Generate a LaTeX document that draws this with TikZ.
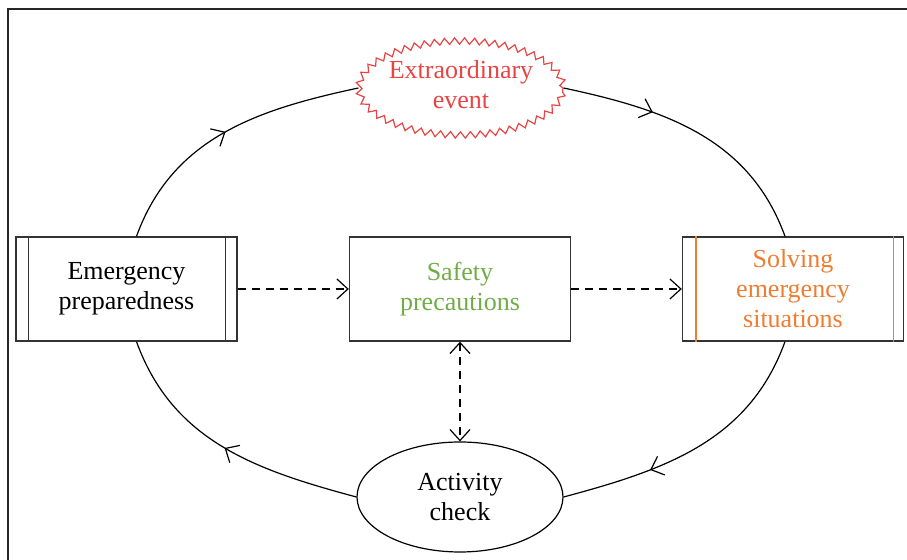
\documentclass[tikz,border=0pt]{standalone}
\usepackage{fontspec}
\setmainfont{Liberation Serif}
\usetikzlibrary{shapes.geometric,arrows.meta,decorations.pathmorphing,decorations.markings}
\definecolor{eventred}{RGB}{232,68,68}
\definecolor{safegreen}{RGB}{112,173,71}
\definecolor{solveorange}{RGB}{237,125,49}

\begin{document}
\begin{tikzpicture}[x=0.5pt, y=-0.5pt, >={Straight Barb[length=5.5pt,width=10pt]},
		txt/.style={align=center, font=\fontsize{13}{15}\selectfont},
		box/.style={rectangle, draw=black!80, line width=0.7pt, minimum width=110.5pt, minimum height=52pt, txt},
		loopline/.style={line width=0.6pt, postaction={decorate}, decoration={markings, mark=at position #1 with {\arrow{>}}}},
		loopline/.default=0.5,
		flow/.style={line width=0.6pt, dash pattern=on 4pt off 3pt, ->}]
	\useasboundingbox (0,0) rectangle (907,560);
	% frame
	\draw[line width=1pt, black!85] (907,9) -- (8,9) -- (8,560);
	% nodes
	\node[box] (prep) at (126.5, 289) {Emergency\\preparedness};
	\node[box, text=safegreen] (safety) at (460, 289) {Safety\\precautions};
	\node[box, text=solveorange] (solve) at (793, 289) {Solving\\emergency\\situations};
	\node[ellipse, draw=eventred, line width=0.6pt, text=eventred, minimum width=102pt, minimum height=47pt, inner xsep=-6pt, inner ysep=-4pt, txt, decorate, decoration={zigzag, segment length=5pt, amplitude=1.6pt}] (event) at (461, 88) {\raisebox{2pt}{\begin{tabular}{@{}c@{}}Extraordinary\\event\end{tabular}}};
	\node[ellipse, draw=black, line width=0.6pt, minimum width=103pt, minimum height=55pt, inner sep=0pt, txt] (check) at (460, 497) {Activity\\check};
	% double side lines
	\draw[line width=0.7pt, black!80] ([xshift=6.5pt]prep.north west) -- ([xshift=6.5pt]prep.south west);
	\draw[line width=0.7pt, black!80] ([xshift=-6pt]prep.north east) -- ([xshift=-6pt]prep.south east);
	\draw[line width=0.7pt, solveorange] ([xshift=7pt]solve.north west) -- ([xshift=7pt]solve.south west);
	\draw[line width=0.7pt, solveorange] ([xshift=-5.5pt]solve.north east) -- ([xshift=-5.5pt]solve.south east);
	% cycle
	\draw[loopline] ([xshift=5pt]prep.north) to[out=70, in=192] (event.west);
	\draw[loopline=0.33] (event.east) to[out=-12, in=110] ([xshift=-4pt]solve.north);
	\draw[loopline=0.68] ([xshift=-4pt]solve.south) to[out=-110, in=15] (check.east);
	\draw[loopline] (check.west) to[out=165, in=-70] ([xshift=5pt]prep.south);
	% dashed links
	\draw[flow] (prep) -- (safety);
	\draw[flow] (safety) -- (solve);
	\draw[flow, <->] (safety) -- (check);
\end{tikzpicture}
\end{document}
